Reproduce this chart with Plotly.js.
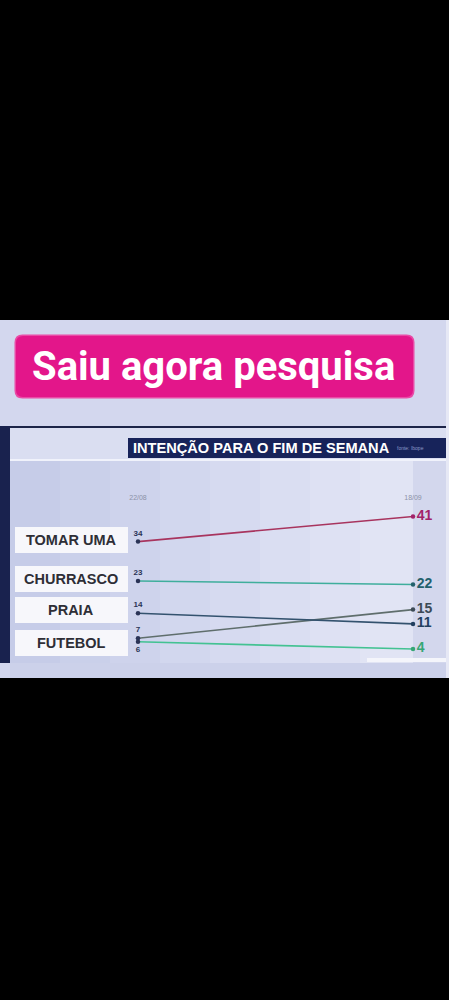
<!DOCTYPE html>
<html>
<head>
<meta charset="utf-8">
<script src="https://cdn.plot.ly/plotly-3.0.1.min.js"></script>
<style>html,body{margin:0;padding:0;background:#000;}#chart{width:449px;height:1000px;}</style>
</head>
<body>
<div id="chart"></div>
<script>
// ---- data ----
const dates = ["22/08", "18/09"];
const categories = ["TOMAR UMA", "CHURRASCO", "PRAIA", "FUTEBOL"];
const tomarUma = [34, 41];
const churrasco = [23, 22];
const praia = [14, 11];
const futebol = [6, 4];
const outro = [7, 15];
const headline = "Saiu agora pesquisa";
const chartTitle = "INTENÇÃO PARA O FIM DE SEMANA";
const source = "fonte: Ibope";

// ---- helpers (pixel -> paper) ----
const W = 449, H = 1000;
const X = px => px / W;
const Y = py => 1 - py / H;

const xIdx = [0, 1];

function series(vals, lineColor, endColor, startPos, name) {
  return {
    type: "scatter",
    mode: "lines+markers+text",
    name: name,
    x: xIdx,
    y: vals,
    text: vals.map(String),
    textposition: [startPos, "middle right"],
    textfont: {
      family: "Liberation Sans, Arial, sans-serif",
      size: [8, 14],
      color: ["#2a3356", endColor],
      weight: 700
    },
    line: {color: lineColor, width: 1.6},
    marker: {color: ["#2a3356", endColor], size: 4.5},
    cliponaxis: false,
    hoverinfo: "skip"
  };
}

const traces = [
  series(tomarUma, "#a8345e", "#a2226a", "top center", categories[0]),
  series(churrasco, "#3fae9c", "#23606c", "top center", categories[1]),
  series(outro, "#5f6e6c", "#3c4a56", "top center", ""),
  series(praia, "#33526e", "#223f60", "top center", categories[2]),
  series(futebol, "#43c292", "#36a676", "bottom center", categories[3])
];

// ---- shapes ----
const rect = (x0, y0, x1, y1, color) => ({
  type: "rect", xref: "paper", yref: "paper", layer: "below",
  x0: X(x0), x1: X(x1), y0: Y(y1), y1: Y(y0),
  fillcolor: color, line: {width: 0}
});
function roundRect(x0, y0, x1, y1, r, color) {
  const a = X(x0), b = X(x1), c = Y(y0), d = Y(y1);
  const rx = r / W, ry = r / H;
  return {
    type: "path", xref: "paper", yref: "paper", layer: "below",
    path: `M ${a+rx} ${c} L ${b-rx} ${c} Q ${b} ${c} ${b} ${c-ry} L ${b} ${d+ry} Q ${b} ${d} ${b-rx} ${d} L ${a+rx} ${d} Q ${a} ${d} ${a} ${d+ry} L ${a} ${c-ry} Q ${a} ${c} ${a+rx} ${c} Z`,
    fillcolor: color, line: {width: 0}
  };
}

const shapes = [
  rect(0, 320, 449, 678, "#d3d7ee"),
  rect(446, 320, 449, 678, "#e6e8f5"),
  roundRect(14.5, 334.5, 414.5, 398.5, 8, "#ea4aa6"),
  roundRect(16, 336, 413, 397, 7, "#e3168a"),
  rect(10, 428, 446, 663, "#dadef1")
];
// soft left-to-right gradient in the chart area
const stripCols = ["#c6cce8", "#cad0ea", "#ced3ec", "#d2d7ee", "#d6daf0", "#dadef2", "#dee1f3", "#e1e4f4"];
const stripEdges = [10, 60, 110, 160, 210, 260, 310, 360, 413];
stripCols.forEach((c, i) => shapes.push(rect(stripEdges[i], 461, stripEdges[i + 1], 663, c)));
shapes.push(
  rect(413, 461, 446, 663, "#d3d7ed"),
  rect(10, 426, 446, 428, "#1c2448"),
  rect(0, 426, 10, 663, "#19224e"),
  rect(128, 438, 446, 458, "#17235a"),
  rect(10, 459, 446, 461, "#f0f2fb"),
  rect(10, 663, 446, 678, "#ccd1ea"),
  rect(367, 658, 446, 662, "#f4f5fb")
);

const boxes = [[527, 553], [566, 592], [597, 623], [630, 656]];
boxes.forEach(b => shapes.push(rect(15, b[0], 128, b[1], "#f7f7fb")));

// ---- annotations ----
const annotations = [
  {xref: "paper", yref: "paper", x: X(213), y: Y(366), text: headline, showarrow: false,
   font: {family: "Roboto, Liberation Sans, sans-serif", size: 40, color: "#ffffff", weight: 700},
   xanchor: "center", yanchor: "middle"},
  {xref: "paper", yref: "paper", x: X(131), y: Y(448), text: chartTitle, showarrow: false,
   font: {family: "Liberation Sans, Arial, sans-serif", size: 14.6, color: "#ffffff", weight: 700},
   xanchor: "left", yanchor: "middle"},
  {xref: "paper", yref: "paper", x: X(395), y: Y(448), text: source, showarrow: false,
   font: {family: "Liberation Sans, Arial, sans-serif", size: 5, color: "#8a98c8"},
   xanchor: "left", yanchor: "middle"}
];
categories.forEach((c, i) => {
  const b = boxes[i];
  annotations.push({
    xref: "paper", yref: "paper", x: X(71), y: Y((b[0] + b[1]) / 2), text: c, showarrow: false,
    font: {family: "Liberation Sans, Arial, sans-serif", size: 14.5, color: "#2e2e36", weight: 700},
    xanchor: "center", yanchor: "middle"
  });
});

// ---- axes geometry ----
const x0px = 138, x1px = 413, span = x1px - x0px, pad = 0.05;
const pxPerUnit = 3.58, zeroPx = 663.3, topPx = 502;
const ymax = (zeroPx - topPx) / pxPerUnit;

const layout = {
  width: W, height: H,
  margin: {l: 0, r: 0, t: 0, b: 0},
  paper_bgcolor: "#000000",
  plot_bgcolor: "rgba(0,0,0,0)",
  showlegend: false,
  xaxis: {
    domain: [X(x0px - pad * span), X(x1px + pad * span)],
    range: [-pad, 1 + pad],
    side: "top",
    tickvals: xIdx,
    ticktext: dates,
    tickfont: {family: "Liberation Sans, Arial, sans-serif", size: 7, color: "#8c92a8"},
    showgrid: false, zeroline: false, showline: false, ticks: "",
    fixedrange: true
  },
  yaxis: {
    domain: [Y(zeroPx), Y(topPx)],
    range: [0, ymax],
    visible: false,
    fixedrange: true
  },
  shapes: shapes,
  annotations: annotations
};

Plotly.newPlot("chart", traces, layout, {displayModeBar: false, staticPlot: true});
</script>
</body>
</html>
